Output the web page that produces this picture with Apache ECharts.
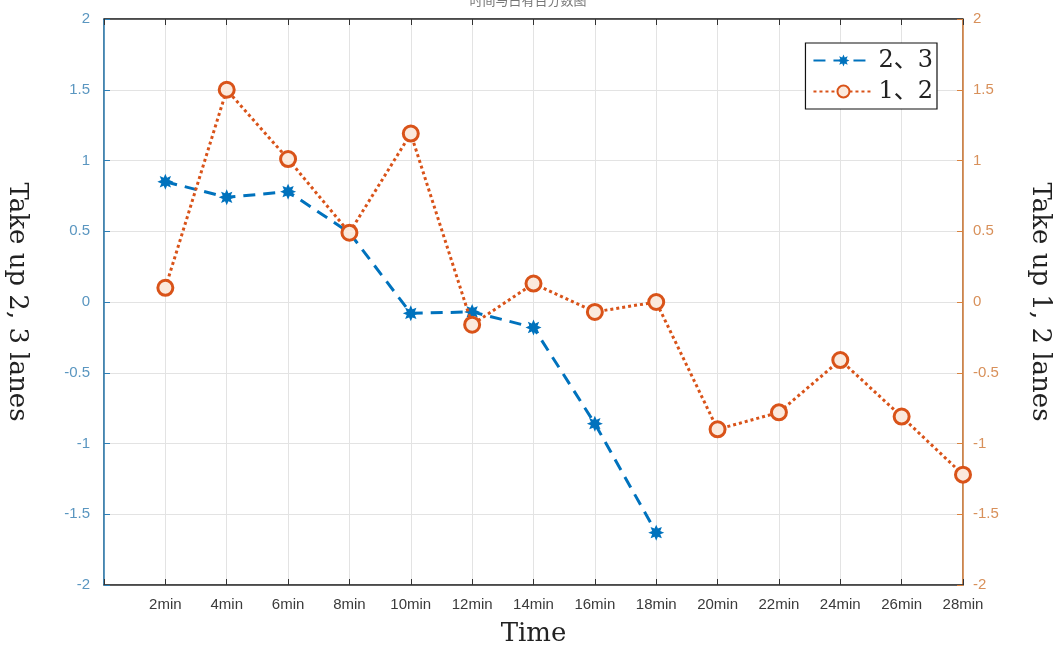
<!DOCTYPE html>
<html>
<head>
<meta charset="utf-8">
<script src="https://cdn.jsdelivr.net/npm/echarts@6/dist/echarts.min.js"></script>
<style>
html,body{margin:0;padding:0;background:#fff;}
#chart{width:1056px;height:654px;}
</style>
</head>
<body>
<div id="chart"></div>
<script>
// Data
var timesBlue = [2, 4, 6, 8, 10, 12, 14, 16, 18];
var lanes23 = [0.85, 0.74, 0.78, 0.49, -0.08, -0.07, -0.18, -0.86, -1.63];
var timesOrange = [2, 4, 6, 8, 10, 12, 14, 16, 18, 20, 22, 24, 26, 28];
var lanes12 = [0.10, 1.50, 1.01, 0.49, 1.19, -0.16, 0.13, -0.07, 0.00, -0.90, -0.78, -0.41, -0.81, -1.22];
var xTickSuffix = 'min';
var seriesNames = ['2、3', '1、2'];
var leftAxisName = 'Take up 2, 3 lanes';
var rightAxisName = 'Take up 1, 2 lanes';
var xAxisName = 'Time';
var titleText = '时间与占有百分数图';

function pairs(xs, ys) { return xs.map(function (x, i) { return [x, ys[i]]; }); }

var starPath = 'path://M20 10 L15.08 12.1 L17.07 17.07 L12.1 15.08 L10 20 L7.9 15.08 L2.93 17.07 L4.92 12.1 L0 10 L4.92 7.9 L2.93 2.93 L7.9 4.92 L10 0 L12.1 4.92 L17.07 2.93 L15.08 7.9 Z';

var chart = echarts.init(document.getElementById('chart'));
var gridLine = { show: true, lineStyle: { color: '#e3e3e3', width: 1 } };
chart.setOption({
  backgroundColor: '#ffffff',
  animation: false,
  title: {
    text: titleText, left: 'center', top: -11,
    textStyle: { fontFamily: 'Noto Sans CJK SC', fontSize: 13, fontWeight: 'normal', color: '#777' }
  },
  grid: { left: 104, right: 93, top: 19, bottom: 69, show: true, borderColor: '#222', borderWidth: 1,
          containLabel: false, outerBoundsMode: 'none' },
  legend: {
    orient: 'vertical', right: 119, top: 43,
    backgroundColor: '#fff', borderColor: '#111', borderWidth: 1.2,
    padding: [3, 4, 3, 7], itemGap: 2, itemWidth: 60, itemHeight: 15,
    textStyle: { fontFamily: 'DejaVu Serif, Noto Sans CJK SC', fontSize: 24, color: '#222', lineHeight: 29 },
    data: seriesNames
  },
  xAxis: [{
    type: 'value', min: 0, max: 28, interval: 2, position: 'bottom',
    name: xAxisName, nameLocation: 'middle', nameGap: 36,
    nameTextStyle: { fontFamily: 'DejaVu Serif', fontSize: 26, color: '#222' },
    axisLine: { show: true, onZero: false, lineStyle: { color: '#333', width: 1.5 } },
    axisTick: { show: true, inside: true, length: 6, lineStyle: { color: '#333' } },
    axisLabel: {
      margin: 12, fontFamily: 'Liberation Sans', fontSize: 15, color: '#3a3a3a',
      formatter: function (v) { return v === 0 ? '' : v + xTickSuffix; }
    },
    splitLine: gridLine
  }, {
    type: 'value', min: 0, max: 28, interval: 2, position: 'top',
    axisLine: { show: true, onZero: false, lineStyle: { color: '#333', width: 1.5 } },
    axisTick: { show: true, inside: true, length: 6, lineStyle: { color: '#333' } },
    axisLabel: { show: false }, splitLine: { show: false }
  }],
  yAxis: [{
    type: 'value', min: -2, max: 2, interval: 0.5, position: 'left',
    name: leftAxisName, nameLocation: 'middle', nameGap: 74, nameRotate: -90,
    nameTextStyle: { fontFamily: 'DejaVu Serif', fontSize: 26, color: '#222' },
    axisLine: { show: true, onZero: false, lineStyle: { color: '#2f7fb5', width: 1.5 } },
    axisTick: { show: true, inside: true, length: 6, lineStyle: { color: '#2f7fb5' } },
    axisLabel: { margin: 14, fontFamily: 'Liberation Sans', fontSize: 15, color: '#5a96c0' },
    splitLine: gridLine
  }, {
    type: 'value', min: -2, max: 2, interval: 0.5, position: 'right',
    name: rightAxisName, nameLocation: 'middle', nameGap: 64, nameRotate: -90,
    nameTextStyle: { fontFamily: 'DejaVu Serif', fontSize: 26, color: '#222' },
    axisLine: { show: true, onZero: false, lineStyle: { color: '#d9823e', width: 1.5 } },
    axisTick: { show: true, inside: true, length: 6, lineStyle: { color: '#d9823e' } },
    axisLabel: { margin: 10, fontFamily: 'Liberation Sans', fontSize: 15, color: '#d8905a' },
    splitLine: { show: false }
  }],
  series: [{
    name: seriesNames[0], type: 'line', xAxisIndex: 0, yAxisIndex: 0,
    data: pairs(timesBlue, lanes23),
    symbol: starPath, symbolSize: 16,
    itemStyle: { color: '#0072BD' },
    lineStyle: { color: '#0072BD', width: 3, type: [12, 8] },
    z: 3
  }, {
    name: seriesNames[1], type: 'line', xAxisIndex: 0, yAxisIndex: 1,
    data: pairs(timesOrange, lanes12),
    symbol: 'circle', symbolSize: 15,
    itemStyle: { color: '#fbe9dc', borderColor: '#D95319', borderWidth: 3 },
    lineStyle: { color: '#D95319', width: 3, type: [3, 3] },
    z: 4
  }]
});
</script>
</body>
</html>
